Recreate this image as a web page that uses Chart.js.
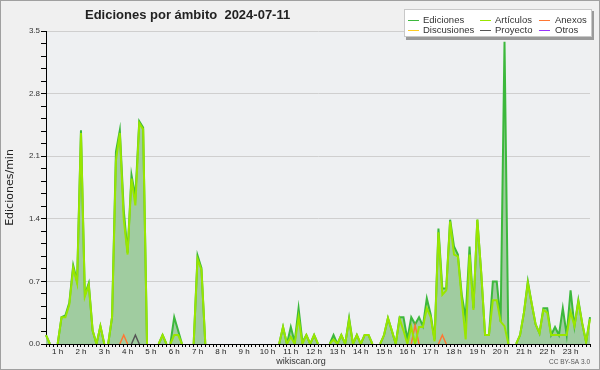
<!DOCTYPE html>
<html>
<head>
<meta charset="utf-8">
<script src="https://cdn.jsdelivr.net/npm/chart.js@4.4.1/dist/chart.umd.min.js"></script>
<style>
  html, body { margin: 0; padding: 0; background: #f0f0f0; }
  #wrap { width: 600px; height: 370px; position: relative; }
</style>
</head>
<body>
<div id="wrap"><canvas id="chart" width="600" height="370"></canvas></div>
<script>
// 10-minute slots shown on the axis
const timeLabels = [
    "00:30","00:40","00:50",
    "01:00","01:10","01:20","01:30","01:40","01:50",
    "02:00","02:10","02:20","02:30","02:40","02:50",
    "03:00","03:10","03:20","03:30","03:40","03:50",
    "04:00","04:10","04:20","04:30","04:40","04:50",
    "05:00","05:10","05:20","05:30","05:40","05:50",
    "06:00","06:10","06:20","06:30","06:40","06:50",
    "07:00","07:10","07:20","07:30","07:40","07:50",
    "08:00","08:10","08:20","08:30","08:40","08:50",
    "09:00","09:10","09:20","09:30","09:40","09:50",
    "10:00","10:10","10:20","10:30","10:40","10:50",
    "11:00","11:10","11:20","11:30","11:40","11:50",
    "12:00","12:10","12:20","12:30","12:40","12:50",
    "13:00","13:10","13:20","13:30","13:40","13:50",
    "14:00","14:10","14:20","14:30","14:40","14:50",
    "15:00","15:10","15:20","15:30","15:40","15:50",
    "16:00","16:10","16:20","16:30","16:40","16:50",
    "17:00","17:10","17:20","17:30","17:40","17:50",
    "18:00","18:10","18:20","18:30","18:40","18:50",
    "19:00","19:10","19:20","19:30","19:40","19:50",
    "20:00","20:10","20:20","20:30","20:40","20:50",
    "21:00","21:10","21:20","21:30","21:40","21:50",
    "22:00","22:10","22:20","22:30","22:40","22:50",
    "23:00","23:10","23:20","23:30","23:40","23:50"
];

// y axis: labelled steps and the minor tick spacing
const yMax = 3.5;
const yMajor = 0.7;
const yMinor = 0.14;

// edits per minute, by namespace
const ediciones = [
    0.1, 0, 0, 0, 0.3, 0.32, 0.46, 0.88, 0.7, 2.39,
    0.55, 0.68, 0.15, 0, 0.2, 0, 0, 0.3, 2.15, 2.39,
    1.5, 1.02, 1.89, 1.65, 2.49, 2.42, 0, 0, 0, 0,
    0.1, 0, 0, 0.3, 0.15, 0, 0, 0, 0, 0.99,
    0.85, 0, 0, 0, 0, 0, 0, 0, 0, 0,
    0, 0, 0, 0, 0, 0, 0, 0, 0, 0,
    0, 0.19, 0, 0.19, 0.02, 0.4, 0.02, 0.1, 0, 0.1,
    0, 0, 0, 0, 0.1, 0, 0.1, 0, 0.29, 0,
    0.1, 0, 0.1, 0.1, 0, 0, 0, 0.1, 0.29, 0.15,
    0, 0.3, 0.3, 0.05, 0.3, 0.22, 0.3, 0.2, 0.51, 0.33,
    0.05, 1.29, 0.62, 0.62, 1.39, 1.09, 1.0, 0.55, 0.29, 1.09,
    0.4, 1.39, 0.8, 0.1, 0.1, 0.7, 0.7, 0.25, 3.38, 0,
    0, 0, 0.1, 0.35, 0.7, 0.45, 0.22, 0.12, 0.4, 0.4,
    0.1, 0.19, 0.1, 0.4, 0.1, 0.6, 0.2, 0.49, 0.23, 0.02,
    0.3
];
const articulos = [
    0.1, 0, 0, 0, 0.3, 0.3, 0.44, 0.85, 0.68, 2.36,
    0.53, 0.66, 0.15, 0, 0.2, 0, 0, 0.3, 2.05, 2.36,
    1.4, 1.0, 1.85, 1.55, 2.47, 2.4, 0, 0, 0, 0,
    0.1, 0, 0, 0.1, 0.1, 0, 0, 0, 0, 0.95,
    0.83, 0, 0, 0, 0, 0, 0, 0, 0, 0,
    0, 0, 0, 0, 0, 0, 0, 0, 0, 0,
    0, 0.19, 0, 0.08, 0, 0.3, 0, 0.1, 0, 0.1,
    0, 0, 0, 0, 0.05, 0, 0.1, 0, 0.27, 0,
    0.1, 0, 0.1, 0.1, 0, 0, 0, 0.1, 0.29, 0.15,
    0, 0.28, 0.15, 0, 0.19, 0, 0.19, 0.19, 0.4, 0.3,
    0.03, 1.25, 0.55, 0.6, 1.37, 1.0, 0.98, 0.5, 0.05, 1.0,
    0.38, 1.39, 0.8, 0.1, 0.1, 0.49, 0.49, 0.25, 0.2, 0,
    0, 0, 0.1, 0.35, 0.68, 0.45, 0.22, 0.12, 0.38, 0.35,
    0.1, 0.1, 0.1, 0.1, 0.1, 0.36, 0.2, 0.47, 0.23, 0.02,
    0.28
];
const anexos = new Array(141).fill(0);
anexos[20] = 0.1;
anexos[95] = 0.21;
anexos[102] = 0.1;
const discusiones = new Array(141).fill(0);
const proyecto = new Array(141).fill(0);
proyecto[23] = 0.1;
const otros = new Array(141).fill(0);

const seriesNames = ["Ediciones", "Artículos", "Anexos", "Discusiones", "Proyecto", "Otros"];
const seriesColors = ["#3cb83c", "#99e600", "#ff7733", "#ffcc22", "#555555", "#9933ff"];

// hide line pieces lying flat on the zero line (they sit under the axis)
const hideZero = {
    borderColor: (ctx) => (ctx.p0.parsed.y === 0 && ctx.p1.parsed.y === 0 ? "rgba(0,0,0,0)" : undefined),
};

function makeSet(i, values, extra) {
    return Object.assign({
        label: seriesNames[i],
        data: values,
        borderColor: seriesColors[i],
        borderWidth: 1.5,
        pointRadius: 0,
        tension: 0,
        fill: false,
        segment: hideZero,
    }, extra || {});
}

function isMajor(v) {
    const r = v / yMajor;
    return Math.abs(r - Math.round(r)) < 1e-6;
}

// page frame, plot background, title, legend and footer
const decor = {
    id: "decor",
    beforeDraw(chart) {
        const { ctx, chartArea: a } = chart;
        ctx.save();
        ctx.fillStyle = "#f0f0f0";
        ctx.fillRect(0, 0, 600, 370);
        ctx.strokeStyle = "#a0a0a0";
        ctx.lineWidth = 1;
        ctx.strokeRect(0.5, 0.5, 599, 369);
        ctx.fillStyle = "#eef0f2";
        ctx.fillRect(a.left, a.top, a.right - a.left, a.bottom - a.top);
        ctx.restore();
    },
    afterDraw(chart) {
        const ctx = chart.ctx;
        ctx.save();
        ctx.fillStyle = "#222";
        ctx.font = "bold 13px 'Liberation Sans', sans-serif";
        ctx.textBaseline = "alphabetic";
        ctx.textAlign = "left";
        ctx.fillText("Ediciones por ámbito  2024-07-11", 85, 19);

        // legend box
        ctx.fillStyle = "#9a9a9a";
        ctx.fillRect(406, 11, 188, 29);
        ctx.fillStyle = "#ffffff";
        ctx.fillRect(404, 9, 188, 28);
        ctx.strokeStyle = "#c8c8c8";
        ctx.strokeRect(404.5, 9.5, 187, 27);
        const cols = [[408, 423], [480, 495], [539, 555]];
        const rows = [20, 30];
        ctx.font = "9.5px 'Liberation Sans', sans-serif";
        ctx.textBaseline = "middle";
        for (let i = 0; i < seriesNames.length; i++) {
            const c = cols[i % 3];
            const y = rows[Math.floor(i / 3)];
            ctx.strokeStyle = seriesColors[i];
            ctx.lineWidth = 1;
            ctx.beginPath();
            ctx.moveTo(c[0], y + 0.5);
            ctx.lineTo(c[0] + 11, y + 0.5);
            ctx.stroke();
            ctx.fillStyle = "#333";
            ctx.fillText(seriesNames[i], c[1], y);
        }

        ctx.fillStyle = "#333";
        ctx.textAlign = "center";
        ctx.font = "9px 'Liberation Sans', sans-serif";
        ctx.fillText("wikiscan.org", 301, 362);
        ctx.textAlign = "right";
        ctx.font = "6.5px 'Liberation Sans', sans-serif";
        ctx.fillStyle = "#555";
        ctx.fillText("CC BY-SA 3.0", 590, 362);
        ctx.restore();
    },
};

new Chart(document.getElementById("chart"), {
    type: "line",
    data: {
        labels: timeLabels,
        datasets: [
            makeSet(1, articulos, { order: 1, borderWidth: 2 }),
            makeSet(2, anexos, { order: 2 }),
            makeSet(3, discusiones, { order: 3 }),
            makeSet(4, proyecto, { order: 4 }),
            makeSet(5, otros, { order: 5 }),
            makeSet(0, ediciones, { order: 6, fill: "origin", backgroundColor: "#a0cca0", borderWidth: 2 }),
        ],
    },
    options: {
        responsive: false,
        animation: false,
        layout: { padding: { top: 31, right: 10, bottom: 0, left: 0 } },
        plugins: {
            legend: { display: false },
            title: { display: false },
            tooltip: { enabled: false },
        },
        scales: {
            x: {
                type: "category",
                z: 1,
                offset: false,
                afterFit: (scale) => { scale.height = 26; },
                border: { display: true, color: "#000", width: 1 },
                grid: { drawOnChartArea: false, tickColor: "#000", tickLength: 3 },
                ticks: {
                    autoSkip: false,
                    maxRotation: 0,
                    padding: 0,
                    color: "#222",
                    font: { family: "'Liberation Sans', sans-serif", size: 8 },
                    callback: (val, idx) => {
                        const lab = timeLabels[idx];
                        return lab.endsWith(":00") ? parseInt(lab, 10) + " h" : "";
                    },
                },
            },
            y: {
                min: 0,
                max: yMax,
                afterFit: (scale) => { scale.width = 46; },
                afterBuildTicks: (scale) => {
                    const ticks = [];
                    for (let k = 0; k <= Math.round(yMax / yMinor); k++) {
                        ticks.push({ value: +(k * yMinor).toFixed(2) });
                    }
                    scale.ticks = ticks;
                },
                border: { display: true, color: "#000", width: 1 },
                grid: {
                    color: (ctx) => (ctx.tick && isMajor(ctx.tick.value) ? "#cfcfcf" : "rgba(0,0,0,0)"),
                    tickColor: "#000",
                    tickLength: 5,
                },
                ticks: {
                    autoSkip: false,
                    padding: 1,
                    color: "#333",
                    font: { family: "'Liberation Sans', sans-serif", size: 8 },
                    callback: (v) => (isMajor(v) ? v.toFixed(1) : ""),
                },
                title: {
                    display: true,
                    text: "Ediciones/min",
                    color: "#222",
                    padding: { top: 4, bottom: 0 },
                    font: { family: "'DejaVu Sans', sans-serif", size: 11 },
                },
            },
        },
    },
    plugins: [decor],
});
</script>
</body>
</html>
